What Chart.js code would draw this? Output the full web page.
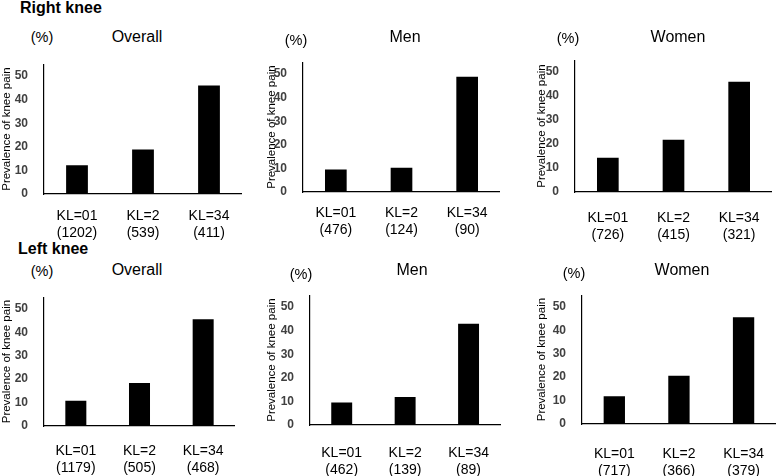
<!DOCTYPE html>
<html>
<head>
<meta charset="utf-8">
<title>Prevalence of knee pain by KL grade</title>
<script src="https://cdn.jsdelivr.net/npm/chart.js@4.4.0/dist/chart.umd.min.js"></script>
<style>
    body {
        margin: 0;
        width: 778px;
        height: 476px;
        position: relative;
        overflow: hidden;
        background: #fff;
        font-family: 'Liberation Sans', Arial, sans-serif;
        color: #000;
    }
    .panel { position: absolute; }
    .heading { position: absolute; font-weight: bold; font-size: 16px; line-height: 1; }
    .txt { position: absolute; transform: translate(-50%, -50%); white-space: nowrap; line-height: 1; }
    .title { font-size: 16px; }
    .pct { font-size: 14.5px; }
</style>
</head>
<body>

<div class="heading" style="left:20px; top:0px;">Right knee</div>
<div class="heading" style="left:18px; top:241px;">Left knee</div>

<script>
/* ============================================================
   DATA
   ============================================================ */
const klLabels = ['KL=01', 'KL=2', 'KL=34'];
const panelTitles = ['Overall', 'Men', 'Women', 'Overall', 'Men', 'Women'];

// prevalence of knee pain (%)
const rightOverall = [12.2, 18.9, 46.0];
const rightMen     = [9.5, 10.3, 48.8];
const rightWomen   = [14.3, 21.8, 46.0];
const leftOverall  = [10.8, 18.4, 45.6];
const leftMen      = [9.5, 11.9, 42.9];
const leftWomen    = [11.9, 20.6, 45.6];

// number of knees per group
const rightOverallN = [1202, 539, 411];
const rightMenN     = [476, 124, 90];
const rightWomenN   = [726, 415, 321];
const leftOverallN  = [1179, 505, 468];
const leftMenN      = [462, 139, 89];
const leftWomenN    = [717, 366, 379];

const yTicks = [0, 10, 20, 30, 40, 50];
const yMax = 55;

/* ============================================================
   LAYOUT (page pixels)
   ============================================================ */
const panels = [
    { values: rightOverall, counts: rightOverallN, left: 0,   axisX: 44,  axisTop: 55,  zeroY: 194, xEnd: 242, labelPad: 6,  pctX: 42,  pctY: 37,  titleX: 137, titleY: 37 },
    { values: rightMen,     counts: rightMenN,     left: 265, axisX: 303, axisTop: 53,  zeroY: 192, xEnd: 500, labelPad: 5,  pctX: 296, pctY: 40,  titleX: 405, titleY: 37 },
    { values: rightWomen,   counts: rightWomenN,   left: 535, axisX: 575, axisTop: 51,  zeroY: 192, xEnd: 772, labelPad: 10, pctX: 568, pctY: 38,  titleX: 678, titleY: 37 },
    { values: leftOverall,  counts: leftOverallN,  left: 0,   axisX: 44,  axisTop: 288, zeroY: 426, xEnd: 235, labelPad: 9,  pctX: 42,  pctY: 271, titleX: 137, titleY: 270 },
    { values: leftMen,      counts: leftMenN,      left: 265, axisX: 310, axisTop: 286, zeroY: 425, xEnd: 501, labelPad: 12, pctX: 301, pctY: 274, titleX: 412, titleY: 270 },
    { values: leftWomen,    counts: leftWomenN,    left: 535, axisX: 582, axisTop: 286, zeroY: 424, xEnd: 778, labelPad: 14, pctX: 574, pctY: 273, titleX: 682, titleY: 270 }
];

Chart.defaults.font.family = "'Liberation Sans', Arial, sans-serif";

document.addEventListener('DOMContentLoaded', function() {
    panels.forEach((p, i) => buildPanel(p, panelTitles[i]));
});

// ============================================================
// TEXT HELPERS
// ============================================================
function addText(text, cls, x, y) {
    const el = document.createElement('div');
    el.className = 'txt ' + cls;
    el.style.left = x + 'px';
    el.style.top = y + 'px';
    el.textContent = text;
    document.body.appendChild(el);
}

// ============================================================
// ONE BAR PANEL
// ============================================================
function buildPanel(p, title) {
    const padTop = 6;
    const labelBox = 62;    // x label area below the zero line (labels are clipped to it)
    const top = p.axisTop - padTop;
    const width = p.xEnd - p.left;
    const height = p.zeroY + labelBox - top;

    const box = document.createElement('div');
    box.className = 'panel';
    box.style.left = p.left + 'px';
    box.style.top = top + 'px';
    const canvas = document.createElement('canvas');
    canvas.width = width;
    canvas.height = height;
    canvas.style.width = width + 'px';
    canvas.style.height = height + 'px';
    box.appendChild(canvas);
    document.body.appendChild(box);

    addText('(%)', 'pct', p.pctX, p.pctY);
    addText(title, 'title', p.titleX, p.titleY);

    new Chart(canvas, {
        type: 'bar',
        data: {
            labels: klLabels.map((k, i) => [k, '(' + p.counts[i] + ')']),
            datasets: [{
                data: p.values,
                backgroundColor: '#000',
                borderWidth: 0,
                barPercentage: 0.33,
                categoryPercentage: 1
            }]
        },
        options: {
            responsive: false,
            animation: false,
            layout: { padding: { top: padTop, right: 0, bottom: 0, left: 0 } },
            plugins: {
                legend: { display: false },
                tooltip: { enabled: false }
            },
            scales: {
                x: {
                    grid: { display: false },
                    border: { display: true, color: '#000', width: 1.2 },
                    ticks: {
                        color: '#000',
                        font: { size: 14, lineHeight: 1.2 },
                        padding: p.labelPad,
                        maxRotation: 0,
                        autoSkip: false
                    },
                    afterFit: function(scale) {
                        scale.height = labelBox;
                    }
                },
                y: {
                    min: 0,
                    max: yMax,
                    grid: { display: false },
                    border: { display: true, color: '#000', width: 1.2 },
                    ticks: {
                        stepSize: 10,
                        color: '#404040',
                        font: { size: 12, weight: 'bold' },
                        padding: 8
                    },
                    afterBuildTicks: function(scale) {
                        scale.ticks = yTicks.map(v => ({ value: v }));
                    },
                    title: {
                        display: true,
                        text: 'Prevalence of knee pain',
                        color: '#000',
                        font: { size: 11.5 },
                        padding: 0
                    },
                    afterFit: function(scale) {
                        scale.width = p.axisX - p.left;
                    }
                }
            }
        }
    });
}
</script>
</body>
</html>
